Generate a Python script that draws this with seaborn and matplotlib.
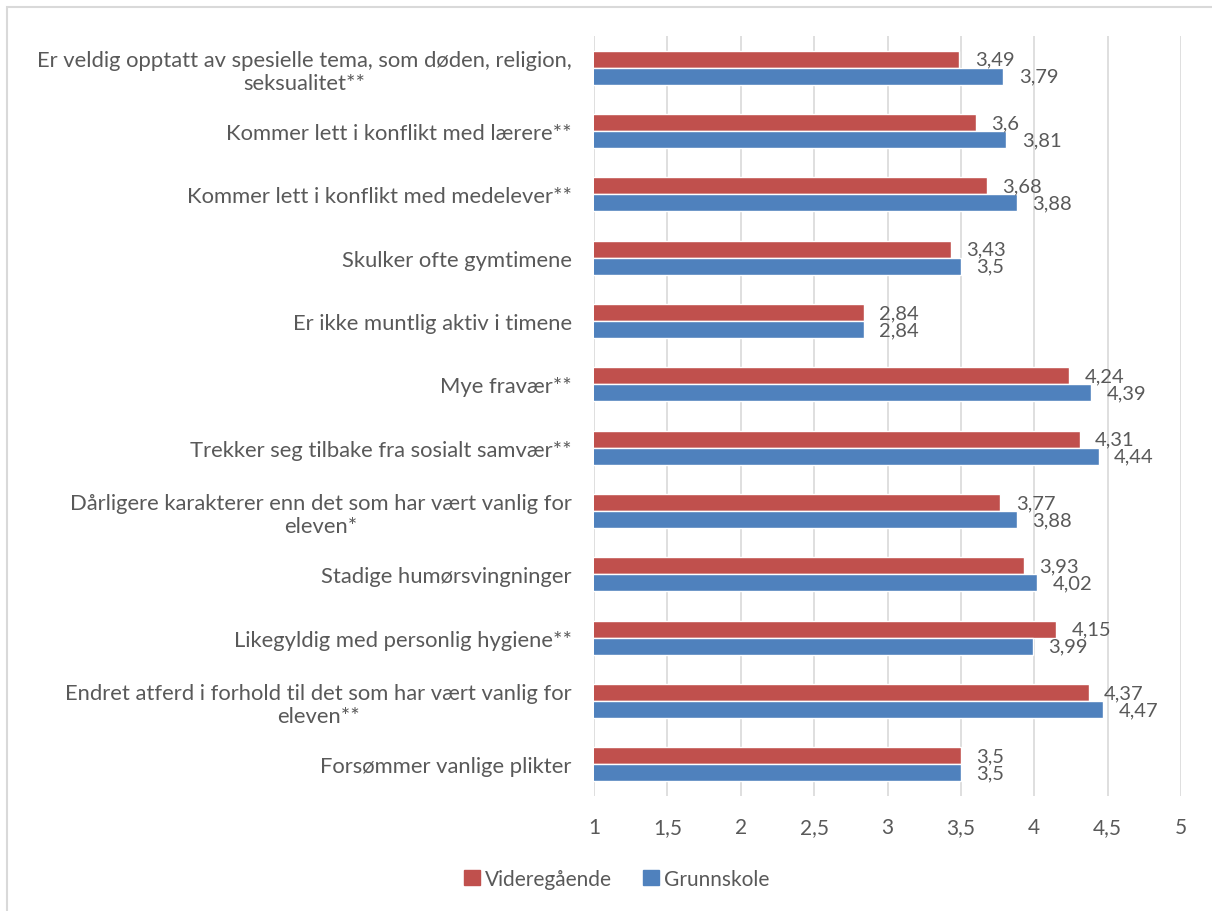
import pandas as pd
import matplotlib.pyplot as plt
import seaborn as sns
from matplotlib.patches import Rectangle

# chart data
categories = [
    "Er veldig opptatt av spesielle tema, som døden, religion,\nseksualitet**",
    "Kommer lett i konflikt med lærere**",
    "Kommer lett i konflikt med medelever**",
    "Skulker ofte gymtimene",
    "Er ikke muntlig aktiv i timene",
    "Mye fravær**",
    "Trekker seg tilbake fra sosialt samvær**",
    "Dårligere karakterer enn det som har vært vanlig for\neleven*",
    "Stadige humørsvingninger",
    "Likegyldig med personlig hygiene**",
    "Endret atferd i forhold til det som har vært vanlig for\neleven**",
    "Forsømmer vanlige plikter",
]
videregaende = [3.49, 3.6, 3.68, 3.43, 2.84, 4.24, 4.31, 3.77, 3.93, 4.15, 4.37, 3.5]
grunnskole = [3.79, 3.81, 3.88, 3.5, 2.84, 4.39, 4.44, 3.88, 4.02, 3.99, 4.47, 3.5]
series = ["Videregående", "Grunnskole"]
colors = ["#c0504d", "#4f81bd"]
x_ticks = [1, 1.5, 2, 2.5, 3, 3.5, 4, 4.5, 5]

df = pd.DataFrame({
    "kategori": categories * 2,
    "verdi": videregaende + grunnskole,
    "skole": [series[0]] * len(categories) + [series[1]] * len(categories),
})

sns.set_style("white")
plt.rcParams['font.family'] = ['Lato', 'DejaVu Sans']
txt = "#595959"

fig = plt.figure(figsize=(12.12, 9.12), dpi=100)
ax = fig.add_axes([594 / 1212, 1 - 797 / 912, (1181 - 594) / 1212, (797 - 37) / 912])

sns.barplot(data=df, x="verdi", y="kategori", hue="skole", order=categories,
            hue_order=series, palette=colors, saturation=1,
            width=0.54, orient="h", ax=ax, legend=False)

# value labels (Excel places them tight, they touch each other)
for c in ax.containers:
    ax.bar_label(c, labels=[f"{v:g}".replace(".", ",") for v in c.datavalues],
                 padding=11, fontsize=14.5, color=txt)

ax.set_xlim(1, 5)
ax.set_ylim(11.5, -0.5)
ax.set_xticks(x_ticks)
ax.set_xticklabels([f"{t:g}".replace(".", ",") for t in x_ticks])
ax.xaxis.grid(True, color="#d9d9d9", linewidth=1.2)
ax.set_axisbelow(True)
for s in ax.spines.values():
    s.set_visible(False)
ax.set_xlabel("")
ax.set_ylabel("")
ax.tick_params(axis="x", length=0, pad=15, labelsize=15, labelcolor=txt)
ax.tick_params(axis="y", length=0, pad=16, labelsize=15.8, labelcolor=txt)
for lab in ax.get_yticklabels():
    lab.set_multialignment("center")
    lab.set_linespacing(1.2)

handles = [Rectangle((0, 0), 1, 1, color=c) for c in colors]
fig.legend(handles, series, loc="center", bbox_to_anchor=(617 / 1212, 1 - 880 / 912),
           ncol=2, frameon=False, fontsize=15, labelcolor=txt, handlelength=0.75,
           handleheight=0.75, handletextpad=0.25, columnspacing=1.5)

# outer chart frame
fig.patches.append(Rectangle((7 / 1212, -0.1), 1.2, 1 - 7.5 / 912 + 0.1,
                             transform=fig.transFigure, fill=False,
                             edgecolor="#d9d9d9", linewidth=1.5))

fig.savefig("out.png", dpi=100)
